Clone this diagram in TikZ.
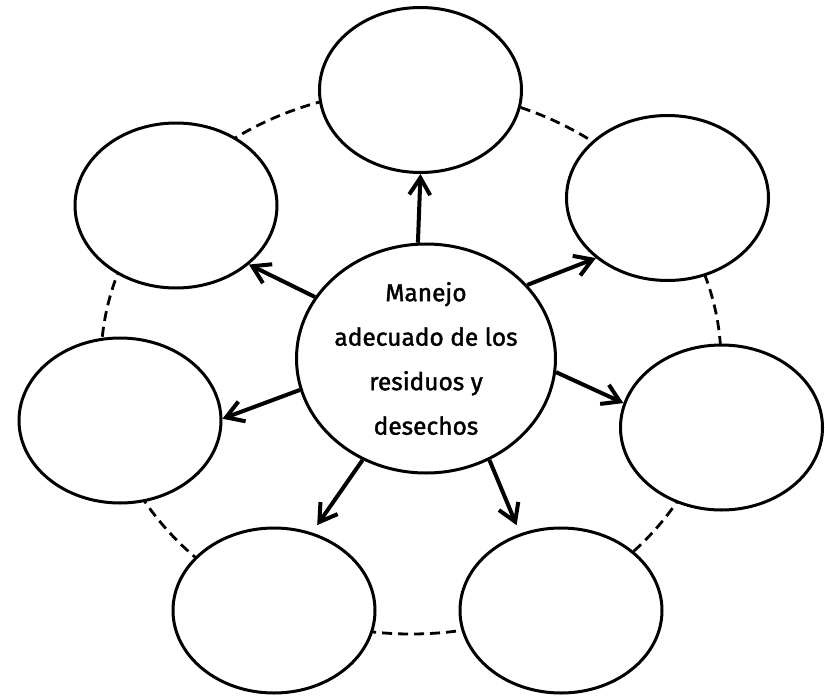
\documentclass[tikz,border=0pt]{standalone}
\usepackage{fontspec}
\setmainfont{Fira Sans}
\newfontfamily\hubfont{Fira Sans}[FakeBold=1.6]
\usetikzlibrary{shapes.geometric,arrows.meta}
\newcommand{\bw}{202pt}
\newcommand{\bh}{165pt}

\begin{document}
\begin{tikzpicture}[x=1pt, y=-1pt,
    bubble/.style={draw, ellipse, fill=white, line width=3pt, minimum width=\bw, minimum height=\bh, inner sep=0pt},
    hub/.style={draw, ellipse, fill=white, line width=3pt, minimum width=252pt, minimum height=229pt, inner sep=0pt, align=center, font=\hubfont\fontsize{24.5}{44.5}\selectfont},
    link/.style={line width=4pt, -{Straight Barb[length=17pt,width=21pt]}}]
    \useasboundingbox (0,0) rectangle (825,696);

    % dashed ring behind the bubbles
    \draw[line width=2.8pt, dash pattern=on 10pt off 6pt] (411,362) ellipse [x radius=310pt, y radius=272pt];

    % centre
    \node[hub] (hub) at (426,358.5) {Manejo\\adecuado de los\\residuos y\\desechos};

    % bubbles round it
    \node[bubble] (bubble-top) at (420.5,90) {};
    \node[bubble] (bubble-ul) at (176,205.5) {};
    \node[bubble] (bubble-ur) at (667.5,198) {};
    \node[bubble] (bubble-l) at (120,420.5) {};
    \node[bubble] (bubble-r) at (721.5,427.5) {};
    \node[bubble] (bubble-bl) at (274,610.5) {};
    \node[bubble] (bubble-br) at (561,610.5) {};

    % arrows
    \draw[link] (hub.94) -- (bubble-top.-90);
    \draw[link] (hub.151) -- (bubble-ul.-39);
    \draw[link] (hub.36) -- (bubble-ur.-140);
    \draw[link] (hub.194) -- (bubble-l.1);
    \draw[link] (hub.-6) -- (bubble-r.166);
    \draw[link, shorten >=9pt] (hub.-122) -- (bubble-bl.64);
    \draw[link, shorten >=9pt] (hub.-58) -- (bubble-br.118);

\end{tikzpicture}
\end{document}
